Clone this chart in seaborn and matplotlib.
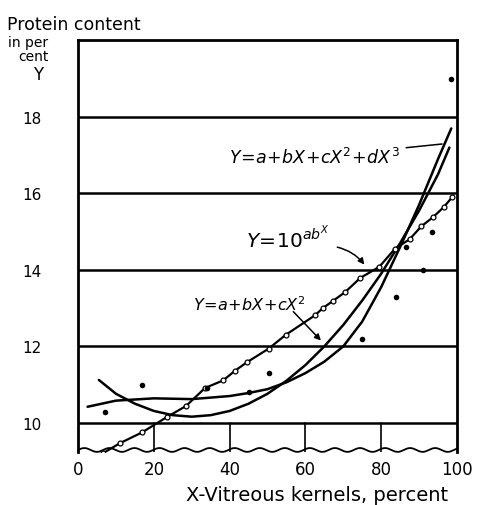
import numpy as np
import pandas as pd
import matplotlib
matplotlib.use("Agg")
import matplotlib.pyplot as plt
import seaborn as sns

# observed values (filled dots)
obs_x = [7, 17, 34, 45, 50.5, 75, 84, 86.5, 91, 93.5, 98.5]
obs_y = [10.27, 10.98, 10.9, 10.8, 11.3, 12.2, 13.3, 14.6, 14.0, 15.0, 19.0]

# Y = 10^(a b^X) curve, with its small open circles
exp_x = [6.5, 11.1, 16.9, 23.6, 28.5, 33.5, 38.3, 41.4, 44.5, 50.3, 54.8, 62.5,
         64.6, 67.3, 70.5, 74.5, 79.5, 83.6, 87.5, 90.6, 93.7, 96.5, 98.8]
exp_y = [9.2, 9.47, 9.75, 10.16, 10.44, 10.91, 11.11, 11.36, 11.58, 11.94, 12.30, 12.81,
         13.0, 13.19, 13.42, 13.79, 14.08, 14.55, 14.8, 15.14, 15.38, 15.64, 15.91]

# Y = a + bX + cX^2 curve
quad_x = [5.5, 10, 15, 20, 25, 30, 35, 40, 45, 50, 55, 60, 65, 70, 75, 80, 85, 90, 95, 98]
quad_y = [11.12, 10.76, 10.5, 10.31, 10.2, 10.16, 10.2, 10.31, 10.5, 10.76, 11.1, 11.51,
          12.0, 12.56, 13.2, 13.9, 14.7, 15.55, 16.5, 17.2]

# Y = a + bX + cX^2 + dX^3 curve
cub_x = [2.5, 10, 20, 30, 40, 45, 50, 55, 60, 65, 70, 75, 80, 85, 90, 95, 98.5]
cub_y = [10.42, 10.58, 10.64, 10.62, 10.7, 10.78, 10.88, 11.06, 11.3, 11.6, 12.0, 12.65,
         13.55, 14.6, 15.7, 16.9, 17.7]

x_ticks = [0, 20, 40, 60, 80, 100]
y_ticks = [10, 12, 14, 16, 18]

sns.set_theme(style="white")
plt.rcParams['font.family'] = ['DejaVu Sans']

fig = plt.figure(figsize=(4.79, 5.06), dpi=100)
ax = fig.add_axes([0.163, 0.105, 0.791, 0.813])
ymin, ymax = 9.24, 20.0
ax.set_xlim(0, 100)
ax.set_ylim(ymin, ymax)

for yv in y_ticks:
    ax.axhline(yv, color='black', lw=1.8, zorder=1)
for xv in x_ticks[1:-1]:
    ax.plot([xv, xv], [ymin, 10], color='black', lw=1.2, zorder=1)

df_q = pd.DataFrame({'x': quad_x, 'y': quad_y})
df_c = pd.DataFrame({'x': cub_x, 'y': cub_y})
df_e = pd.DataFrame({'x': exp_x, 'y': exp_y})
df_o = pd.DataFrame({'x': obs_x, 'y': obs_y})

sns.lineplot(data=df_q, x='x', y='y', ax=ax, color='black', lw=1.8, sort=False, zorder=3)
sns.lineplot(data=df_c, x='x', y='y', ax=ax, color='black', lw=1.8, sort=False, zorder=3)
sns.lineplot(data=df_e, x='x', y='y', ax=ax, color='black', lw=1.6, sort=False, zorder=3,
             marker='o', markersize=3.5, markerfacecolor='white', markeredgecolor='black',
             markeredgewidth=0.9)
sns.scatterplot(data=df_o, x='x', y='y', ax=ax, color='black', s=16, zorder=4, linewidth=0)

# frame
for side in ['left', 'top', 'right']:
    ax.spines[side].set_color('black')
    ax.spines[side].set_linewidth(2.0)
ax.spines['bottom'].set_visible(False)
wx = np.linspace(0, 100, 300)
wy = ymin + 0.05 + 0.05 * np.sin(wx * 0.95)
ax.plot(wx, wy, color='black', lw=1.3, clip_on=False, zorder=2)

ax.set_xticks(x_ticks)
ax.set_yticks(y_ticks)
ax.set_xticklabels([str(v) for v in x_ticks], fontsize=12)
ax.set_yticklabels([str(v) for v in y_ticks], fontsize=11)
ax.tick_params(axis='both', length=0, colors='black')
ax.tick_params(axis='y', pad=26)
ax.tick_params(axis='x', pad=6)
ax.set_xlabel('')
ax.set_ylabel('')
fig.text(0.662, 0.02, 'X-Vitreous kernels, percent', fontsize=14, color='black',
         ha='center', va='center')

fig.text(0.015, 0.95, 'Protein content', fontsize=12.5, color='black', ha='left', va='center')
fig.text(0.017, 0.916, 'in per', fontsize=10, color='black', ha='left', va='center')
fig.text(0.038, 0.888, 'cent', fontsize=10, color='black', ha='left', va='center')
fig.text(0.08, 0.851, 'Y', fontsize=12, color='black', ha='center', va='center')

ax.annotate(r'$Y\!=\!a\!+\!bX\!+\!cX^2\!+\!dX^3$', xy=(96.8, 17.3), xytext=(85, 16.95),
            fontsize=12.5, ha='right', va='center', color='black',
            arrowprops=dict(arrowstyle='-', color='black', lw=1.1, shrinkA=2))
ax.annotate(r'$Y\!=\!10^{ab^X}$', xy=(76, 14.08), xytext=(55.5, 14.85),
            fontsize=14.5, ha='center', va='center', color='black')
ax.annotate('', xy=(76, 14.08), xytext=(67.7, 14.61),
            arrowprops=dict(arrowstyle='-|>', color='black', lw=1.1,
                            connectionstyle='arc3,rad=-0.2', mutation_scale=9))
ax.annotate(r'$Y\!=\!a\!+\!bX\!+\!cX^2$', xy=(64.6, 12.1), xytext=(45.3, 13.12),
            fontsize=11.5, ha='center', va='center', color='black')
ax.annotate('', xy=(64.6, 12.1), xytext=(56.3, 12.96),
            arrowprops=dict(arrowstyle='-|>', color='black', lw=1.1, mutation_scale=9))

fig.savefig('out.png', dpi=100, facecolor='white')
